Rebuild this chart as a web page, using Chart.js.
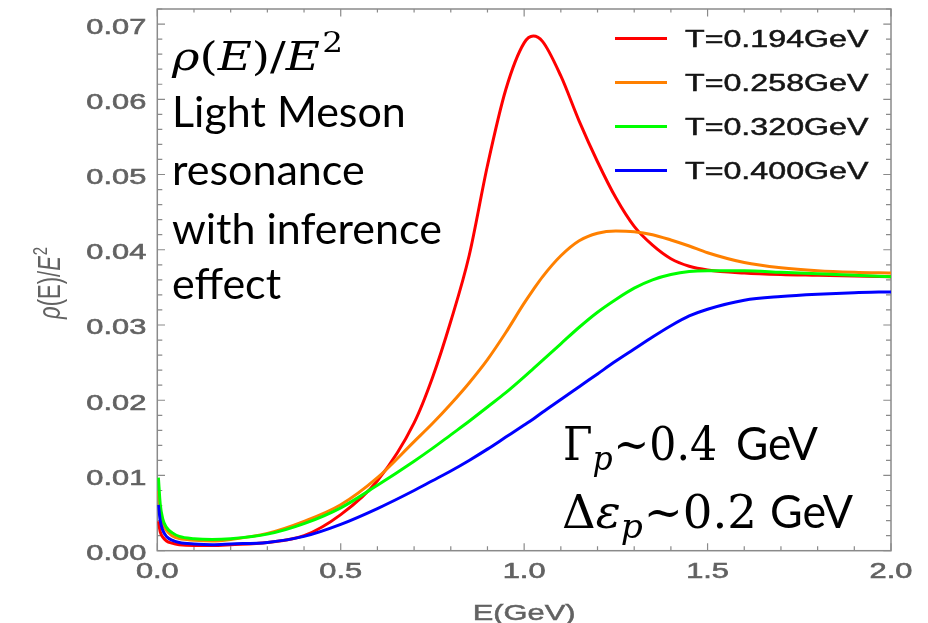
<!DOCTYPE html>
<html>
<head>
<meta charset="utf-8">
<title>Light meson spectral function</title>
<script src="https://cdn.jsdelivr.net/npm/chart.js@4/dist/chart.umd.min.js"></script>
<style>
  html, body { margin: 0; padding: 0; background: #ffffff; }
  #wrap { width: 928px; height: 623px; position: relative; }
  canvas { display: block; }
</style>
</head>
<body>
<div id="wrap"><canvas id="chart" width="928" height="623"></canvas></div>
<script>
// Energy grid E (GeV) shared by all temperature curves
const energy = [0.003, 0.008, 0.015, 0.025, 0.04, 0.06, 0.1, 0.15, 0.2, 0.3, 0.4, 0.5, 0.6, 0.7, 0.75, 0.8, 0.85, 0.9, 0.95, 1.0, 1.025, 1.05, 1.1, 1.15, 1.2, 1.25, 1.3, 1.35, 1.4, 1.45, 1.5, 1.6, 1.7, 1.8, 1.9, 2.0];

// rho(E)/E^2 for each temperature
const rhoT194 = [0.0039, 0.0025, 0.0018, 0.0013, 0.0010, 0.0008, 0.0007, 0.0007, 0.0008, 0.0011, 0.0020, 0.0048, 0.0093, 0.0170, 0.0230, 0.0305, 0.0392, 0.0512, 0.0613, 0.0675, 0.0684, 0.0677, 0.0631, 0.0571, 0.0517, 0.0469, 0.0431, 0.0406, 0.0388, 0.0378, 0.0373, 0.0369, 0.0367, 0.0366, 0.0365, 0.0364];
const rhoT258 = [0.0080, 0.0052, 0.0036, 0.0027, 0.0020, 0.0016, 0.0014, 0.0013, 0.0015, 0.0023, 0.0039, 0.0061, 0.0097, 0.0145, 0.0169, 0.0195, 0.0223, 0.0254, 0.0290, 0.0329, 0.0347, 0.0364, 0.0392, 0.0412, 0.0422, 0.0425, 0.0424, 0.0420, 0.0413, 0.0405, 0.0396, 0.0383, 0.0376, 0.0372, 0.0370, 0.0369];
const rhoT320 = [0.0097, 0.0062, 0.0042, 0.0031, 0.0024, 0.0019, 0.0016, 0.0015, 0.0016, 0.0022, 0.0036, 0.0057, 0.0087, 0.0119, 0.0136, 0.0154, 0.0172, 0.0191, 0.0210, 0.0231, 0.0242, 0.0253, 0.0275, 0.0297, 0.0317, 0.0334, 0.0349, 0.0360, 0.0367, 0.0371, 0.0372, 0.0372, 0.0370, 0.0368, 0.0366, 0.0364];
const rhoT400 = [0.0061, 0.0040, 0.0027, 0.0019, 0.0014, 0.0011, 0.0009, 0.0008, 0.0009, 0.0011, 0.0019, 0.0035, 0.0056, 0.0080, 0.0093, 0.0106, 0.0120, 0.0135, 0.0151, 0.0167, 0.0175, 0.0184, 0.0201, 0.0218, 0.0235, 0.0252, 0.0268, 0.0284, 0.0299, 0.0312, 0.0321, 0.0333, 0.0338, 0.0341, 0.0343, 0.0344];

const seriesLabels = ['T=0.194GeV', 'T=0.258GeV', 'T=0.320GeV', 'T=0.400GeV'];
const seriesColors = ['#ff0000', '#ff8000', '#00ff00', '#0000ff'];

// Axis ticks
const xTicks = [0, 0.5, 1.0, 1.5, 2.0];
const xTickLabels = ['0.0', '0.5', '1.0', '1.5', '2.0'];
const yTicks = [0, 0.01, 0.02, 0.03, 0.04, 0.05, 0.06, 0.07];
const yTickLabels = ['0.00', '0.01', '0.02', '0.03', '0.04', '0.05', '0.06', '0.07'];

const allSeries = [rhoT194, rhoT258, rhoT320, rhoT400];

const datasets = allSeries.map((vals, i) => ({
  label: seriesLabels[i],
  data: energy.map((e, k) => ({ x: e, y: vals[k] })),
  borderColor: seriesColors[i],
  backgroundColor: seriesColors[i],
  borderWidth: 3,
  pointRadius: 0,
  fill: false,
  cubicInterpolationMode: 'monotone',
  order: allSeries.length - i   // later temperatures drawn on top
}));

// Width of a list of text runs
function runsWidth(ctx, runs) {
  let w = 0;
  runs.forEach(r => { ctx.font = r.font; w += ctx.measureText(r.text).width + (r.dx || 0); });
  return w;
}

// Draw mixed-font text runs starting at x on baseline y; when fitWidth is
// given the whole group is stretched horizontally to that width.
function drawRuns(ctx, runs, x, y, fitWidth, color) {
  ctx.save();
  const w = runsWidth(ctx, runs);
  const sx = fitWidth ? fitWidth / w : 1;
  ctx.translate(x, y);
  ctx.scale(sx, 1);
  ctx.fillStyle = color;
  ctx.textAlign = 'left';
  ctx.textBaseline = 'alphabetic';
  let cx = 0;
  runs.forEach(r => {
    ctx.font = r.font;
    ctx.fillText(r.text, cx + (r.dx || 0), r.dy || 0);
    cx += ctx.measureText(r.text).width + (r.dx || 0);
  });
  ctx.restore();
}

function stretchedText(ctx, text, x, y, align, sx, font, color, weight) {
  ctx.save();
  ctx.translate(x, y);
  ctx.scale(sx, 1);
  ctx.font = font;
  ctx.fillStyle = color;
  ctx.textAlign = align;
  ctx.textBaseline = 'alphabetic';
  ctx.fillText(text, 0, 0);
  if (weight) {
    ctx.strokeStyle = color;
    ctx.lineWidth = weight;
    ctx.strokeText(text, 0, 0);
  }
  ctx.restore();
}

const frameColor = '#8a8a8a';
const labelColor = '#626262';
const tickFont = '22px "Liberation Sans", Arial, sans-serif';
const STRETCH = 1.4;

const framePlugin = {
  id: 'mathFrame',
  beforeDatasetsDraw(chart) {
    const { ctx, chartArea: a, scales: { x, y } } = chart;
    ctx.save();
    ctx.strokeStyle = frameColor;
    ctx.lineWidth = 1.5;
    ctx.strokeRect(a.left, a.top, a.right - a.left, a.bottom - a.top);
    ctx.lineWidth = 1.2;
    ctx.beginPath();
    // x ticks every 0.1, major every 0.5
    for (let i = 0; i <= 20; i++) {
      const px = x.getPixelForValue(i / 10);
      const major = i % 5 === 0;
      const lenB = major ? 7.5 : 4.5;
      const lenT = major ? 7.5 : 3.5;
      ctx.moveTo(px, a.bottom); ctx.lineTo(px, a.bottom - lenB);
      ctx.moveTo(px, a.top); ctx.lineTo(px, a.top + lenT);
    }
    // y ticks every 0.002, major every 0.01
    for (let i = 0; i <= 36; i++) {
      const v = i * 0.002;
      if (v > y.max + 1e-9) break;
      const py = y.getPixelForValue(v);
      const major = i % 5 === 0;
      const len = major ? 7.7 : 5;
      ctx.moveTo(a.left, py); ctx.lineTo(a.left + len, py);
      ctx.moveTo(a.right, py); ctx.lineTo(a.right - len, py);
    }
    ctx.stroke();
    ctx.restore();
  },
  afterDraw(chart) {
    const { ctx, chartArea: a, scales: { x, y } } = chart;

    // tick labels
    xTicks.forEach((v, i) => {
      stretchedText(ctx, xTickLabels[i], x.getPixelForValue(v), a.bottom + 27.5, 'center', STRETCH, tickFont, labelColor, 0.6);
    });
    yTicks.forEach((v, i) => {
      stretchedText(ctx, yTickLabels[i], a.left - 11, y.getPixelForValue(v) + 9.5, 'right', STRETCH, tickFont, labelColor, 0.6);
    });

    // axis titles
    stretchedText(ctx, 'E(GeV)', (a.left + a.right) / 2, 620, 'center', STRETCH, tickFont, labelColor, 0.5);

    ctx.save();
    ctx.translate(60, (a.top + a.bottom) / 2 + 3);
    ctx.rotate(-Math.PI / 2);
    ctx.scale(1, STRETCH);
    const yTitleRuns = [
      { text: 'ρ', font: 'italic 22px "Liberation Sans", Arial, sans-serif' },
      { text: '(E)/', font: '22px "Liberation Sans", Arial, sans-serif' },
      { text: 'E', font: 'italic 22px "Liberation Sans", Arial, sans-serif' },
      { text: '2', font: '15px "Liberation Sans", Arial, sans-serif', dy: -9, dx: 1 }
    ];
    const tw = runsWidth(ctx, yTitleRuns);
    drawRuns(ctx, yTitleRuns, -tw / 2, 0, 0, labelColor);
    ctx.restore();

    // legend (inside the frame, top right)
    const legX0 = 615, legX1 = 667, legTextX = 685;
    const legY = [38.5, 82.5, 126.5, 170.5];
    seriesLabels.forEach((lab, i) => {
      ctx.save();
      ctx.strokeStyle = seriesColors[i];
      ctx.lineWidth = 3;
      ctx.beginPath();
      ctx.moveTo(legX0, legY[i]);
      ctx.lineTo(legX1, legY[i]);
      ctx.stroke();
      ctx.restore();
      stretchedText(ctx, lab, legTextX, legY[i] + 8.5, 'left', 1.37, '23.5px "Liberation Sans", Arial, sans-serif', '#151515', 0.5);
    });

    // annotation text
    const serif = '"DejaVu Serif", "Liberation Serif", serif';
    const sans = 'Lato, "Open Sans", sans-serif';
    drawRuns(ctx, [
      { text: 'ρ', font: `italic 40px ${serif}` },
      { text: '(', font: `40px ${serif}` },
      { text: 'E', font: `italic 40px ${serif}` },
      { text: ')/', font: `40px ${serif}` },
      { text: 'E', font: `italic 40px ${serif}` },
      { text: '2', font: `28px ${serif}`, dy: -18, dx: 2 }
    ], 172, 70, 171, '#000000');

    const lines = ['Light Meson', 'resonance', 'with inference', 'effect'];
    const baselines = [126.5, 185, 243.5, 298.5];
    lines.forEach((t, i) => {
      stretchedText(ctx, t, 172, baselines[i], 'left', 1, `43px ${sans}`, '#000000');
    });

    // width parameters: Γ_p ~ 0.4 GeV and Δε_p ~ 0.2 GeV
    drawRuns(ctx, [
      { text: 'Γ', font: `46px ${serif}` },
      { text: 'p', font: `italic 34px ${serif}`, dy: 10 },
      { text: '~0.4', font: `46px ${serif}`, dx: 1 }
    ], 563, 460, 154, '#000000');
    drawRuns(ctx, [{ text: 'GeV', font: `46px ${sans}` }], 736, 460, 82, '#000000');

    drawRuns(ctx, [
      { text: 'Δ', font: `46px ${serif}` },
      { text: 'ε', font: `italic 46px ${serif}` },
      { text: 'p', font: `italic 34px ${serif}`, dy: 10 },
      { text: '~0.2', font: `46px ${serif}`, dx: 1 }
    ], 562, 528, 195, '#000000');
    drawRuns(ctx, [{ text: 'GeV', font: `46px ${sans}` }], 770, 528, 83, '#000000');
  }
};

new Chart(document.getElementById('chart'), {
  type: 'line',
  data: { datasets },
  options: {
    responsive: false,
    animation: false,
    devicePixelRatio: 1,
    layout: { padding: { left: 157.3, right: 37, top: 9, bottom: 72.3 } },
    plugins: { legend: { display: false }, tooltip: { enabled: false } },
    scales: {
      x: { type: 'linear', min: 0, max: 2, display: false },
      y: { type: 'linear', min: 0, max: 0.072, display: false }
    }
  },
  plugins: [framePlugin]
});
</script>
</body>
</html>
